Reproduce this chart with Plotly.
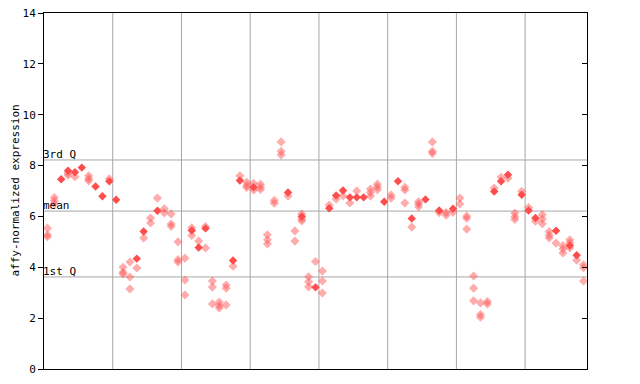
import plotly.graph_objects as go

# hatched (replicate) values per sample index 0..78
hatched_vals = [
    [5.54, 5.28, 5.2], [6.74, 6.62, 6.5], [], [7.7, 7.62], [7.56], [], [7.6, 7.48, 7.4], [], [], [7.48],
    [], [4.0, 3.8, 3.74], [4.21, 3.62, 3.15], [3.97], [5.15], [5.94, 5.74], [6.72], [6.3, 6.14], [6.1, 5.7, 5.61], [5.0, 4.3, 4.21],
    [4.36, 3.5, 2.91], [5.55, 5.25], [5.03], [5.6, 4.76], [3.46, 3.22, 2.56], [2.63, 2.5, 2.4], [3.3, 3.18, 2.52], [4.04], [7.6], [7.34, 7.22, 7.14],
    [7.3, 7.04], [7.27, 7.16, 7.06], [5.28, 5.08, 4.92], [6.63, 6.52], [8.93, 8.56, 8.42], [6.8], [5.43, 5.03], [6.1, 5.9, 5.82], [3.63, 3.43, 3.23], [4.23],
    [3.85, 3.46, 2.99], [6.45], [6.69], [6.81], [6.53], [7.0], [], [7.08, 6.94, 6.8], [7.27, 7.16, 7.05], [],
    [6.84, 6.72], [], [7.15, 7.04, 6.53], [5.58], [6.58, 6.49, 6.38], [], [8.93, 8.56, 8.48], [6.15], [6.15, 6.05], [6.16],
    [6.72, 6.49], [6.01, 5.93, 5.5], [3.66, 3.18, 2.68], [2.6, 2.14, 2.04], [2.65, 2.56], [7.12], [7.54], [7.5], [6.13, 5.99, 5.88], [6.99],
    [6.35], [5.81], [6.07, 5.9, 5.71], [5.41, 5.26, 5.15], [4.95], [4.85, 4.72, 4.56], [5.08, 4.96, 4.76], [4.28], [4.1, 3.98, 3.46],
]

# solid points (sample index, value)
solid_idx = [2, 3, 4, 5, 7, 8, 9, 10, 13, 14, 16, 21, 22, 23, 27, 28, 30, 35, 37, 39,
             41, 42, 43, 44, 45, 46, 49, 51, 53, 55, 57, 59, 65, 66, 67, 69, 70, 71, 74, 76, 77]
solid_val = [7.46, 7.8, 7.74, 7.92, 7.18, 6.79, 7.38, 6.66, 4.34, 5.41, 6.22, 5.45, 4.78, 5.53, 4.27, 7.41, 7.15, 6.94, 6.0, 3.21,
             6.32, 6.82, 7.02, 6.75, 6.75, 6.75, 6.58, 7.38, 5.92, 6.67, 6.23, 6.3, 6.98, 7.38, 7.64, 6.85, 6.23, 5.94, 5.44, 4.86, 4.47]

group_bounds = [9.5, 19.5, 29.5, 39.5, 49.5, 59.5, 69.5]
quartiles = {"3rd Q": 8.22, "mean": 6.21, "1st Q": 3.62}
y_ticks = [0, 2, 4, 6, 8, 10, 12, 14]

hx, hy = [], []
for i, vals in enumerate(hatched_vals):
    for v in vals:
        hx.append(i)
        hy.append(v)

FONT = "DejaVu Sans Mono"
fig = go.Figure()

fig.add_trace(go.Scatter(
    x=hx, y=hy, mode="markers",
    marker=dict(symbol="diamond", size=7, color="rgba(255,90,90,0.5)", line=dict(width=0)),
    showlegend=False, hoverinfo="skip"))
fig.add_trace(go.Scatter(
    x=solid_idx, y=solid_val, mode="markers",
    marker=dict(symbol="diamond", size=6.5, color="#ff4d4d", line=dict(width=0)),
    showlegend=False, hoverinfo="skip"))
# right-side axis ticks (inside)
fig.add_trace(go.Scatter(x=[None], y=[None], yaxis="y2", showlegend=False))

shapes = []
for b in group_bounds:
    shapes.append(dict(type="line", xref="x", yref="paper", x0=b, x1=b, y0=0, y1=1,
                       line=dict(color="#a6a6a6", width=1), layer="below"))
annotations = []
for name, v in quartiles.items():
    shapes.append(dict(type="line", xref="paper", yref="y", x0=0, x1=1, y0=v, y1=v,
                       line=dict(color="#a6a6a6", width=1), layer="below"))
    annotations.append(dict(text=name, xref="paper", yref="y", x=0, y=v, xanchor="left",
                            yanchor="bottom", showarrow=False, yshift=-3, xshift=-3,
                            font=dict(family=FONT, size=11, color="black")))
annotations.append(dict(text="affy-normalized expression", xref="paper", yref="paper",
                        x=0, y=0.5, xshift=-38, textangle=-90, showarrow=False,
                        font=dict(family=FONT, size=11, color="black")))

fig.update_layout(
    width=640, height=384,
    margin=dict(l=44, r=53, t=13, b=15, autoexpand=False),
    paper_bgcolor="white", plot_bgcolor="white",
    xaxis=dict(range=[-0.5, 78.5], showticklabels=False, ticks="", showgrid=False,
               zeroline=False, showline=True, linecolor="black", linewidth=1, mirror=True),
    yaxis=dict(range=[0, 14], tickvals=y_ticks, ticks="outside", ticklen=5, tickcolor="black",
               showgrid=False, zeroline=False, showline=True, linecolor="black", linewidth=1,
               mirror=True, tickfont=dict(family=FONT, size=11, color="black")),
    yaxis2=dict(range=[0, 14], tickvals=y_ticks, overlaying="y", side="right", ticks="inside",
                ticklen=5, tickcolor="black", showticklabels=False, showgrid=False, zeroline=False),
    shapes=shapes, annotations=annotations,
)

fig.write_html("out.html", config={"displayModeBar": False},
               post_script="document.body.style.margin='0';")
